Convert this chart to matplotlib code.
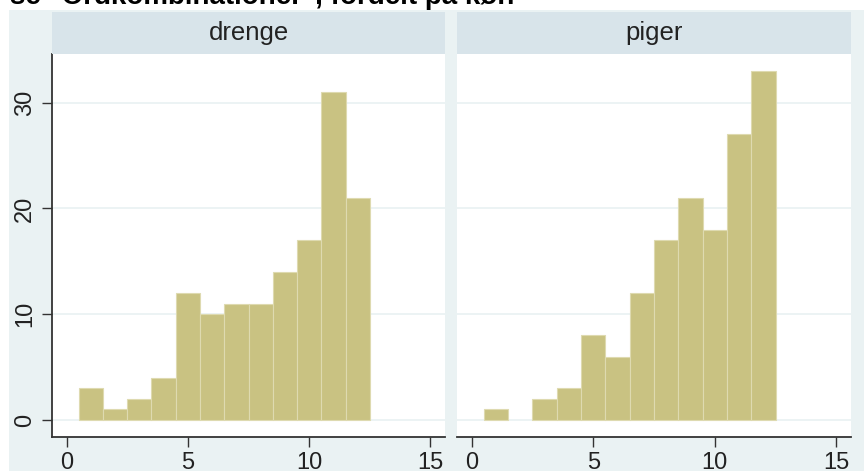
import matplotlib.pyplot as plt
from matplotlib.patches import Rectangle

# data (bin centres and counts)
bins = [1, 2, 3, 4, 5, 6, 7, 8, 9, 10, 11, 12]
drenge = [3, 1, 2, 4, 12, 10, 11, 11, 14, 17, 31, 21]
piger = [1, 0, 2, 3, 8, 6, 12, 17, 21, 18, 27, 33]
panels = ["drenge", "piger"]
yticks = [0, 10, 20, 30]
xticks = [0, 5, 10, 15]
title = 'se "Ordkombinationer", fordelt på køn'

bg = "#EAF2F3"
strip_col = "#D8E4EA"
bar_col = "#C9C282"
bar_edge = "#DEDAB0"

plt.rcParams['font.family'] = ['Liberation Sans', 'DejaVu Sans']

W, H = 864, 471
fig = plt.figure(figsize=(W / 100, H / 100), dpi=100)
fig.patch.set_facecolor("white")

# outer graph region (starts a little in from the top-left)
fig.add_artist(Rectangle((9 / W, 0), 1, (H - 10) / H, transform=fig.transFigure,
                         facecolor=bg, edgecolor="none", zorder=0))

# cut-off title at the very top
fig.text(10 / W, (H - 4) / H, title, ha="left", va="baseline",
         fontsize=20, fontweight="bold")

lefts = [52, 457]
rights = [445, 851]
top_px, axis_px, strip_top = 54, 437, 12

for i, (name, counts) in enumerate(zip(panels, [drenge, piger])):
    l, r = lefts[i], rights[i]
    ax = fig.add_axes([l / W, (H - axis_px) / H, (r - l) / W, (axis_px - top_px) / H])
    ax.set_facecolor("white")
    xs = [b for b, c in zip(bins, counts) if c > 0]
    hs = [c for c in counts if c > 0]
    ax.bar(xs, hs, width=1, color=bar_col, edgecolor=bar_edge, linewidth=0.8, zorder=2)
    ax.set_xlim(-0.6, 15.6)
    ax.set_ylim(-1.6, 34.6)
    ax.set_yticks(yticks)
    ax.set_xticks(xticks)
    for y in yticks:
        ax.axhline(y, color=bg, linewidth=1.3, zorder=1)
    for s in ["top", "right"]:
        ax.spines[s].set_visible(False)
    ax.spines["bottom"].set_color("#333333")
    ax.spines["bottom"].set_linewidth(1.3)
    ax.tick_params(axis="x", length=7.5, width=1, color="#333333", pad=3.5,
                   labelsize=17, labelcolor="#222222")
    if i == 0:
        ax.spines["left"].set_color("#333333")
        ax.spines["left"].set_linewidth(1.3)
        ax.tick_params(axis="y", length=7.5, width=1, color="#333333", pad=4,
                       labelsize=17, labelcolor="#222222")
        for lab in ax.get_yticklabels():
            lab.set_rotation(90)
            lab.set_va("center")
    else:
        ax.spines["left"].set_visible(False)
        ax.tick_params(axis="y", left=False, labelleft=False)

    # panel strip
    sax = fig.add_axes([l / W, (H - top_px) / H, (r - l) / W, (top_px - strip_top) / H])
    sax.set_facecolor(strip_col)
    sax.set_xticks([])
    sax.set_yticks([])
    for s in sax.spines.values():
        s.set_visible(False)
    sax.text(0.5, 0.5, name, ha="center", va="center", fontsize=18.5,
             color="#222222", transform=sax.transAxes)

fig.savefig("out.png", dpi=100)
